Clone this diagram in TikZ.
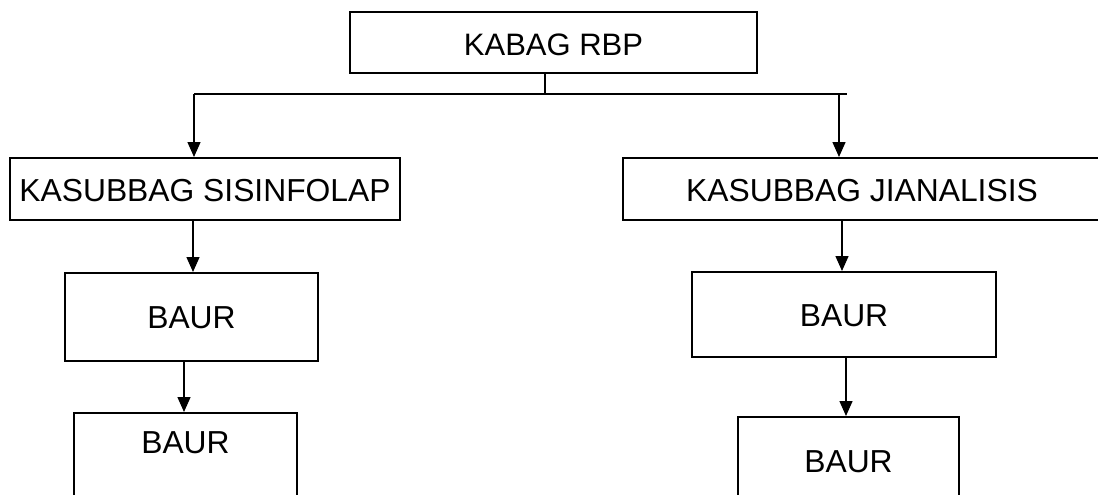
\documentclass[tikz,border=0pt]{standalone}
\usepackage{fontspec}
\setmainfont{Liberation Sans}
\usetikzlibrary{arrows.meta}

\tikzset{
  % box: text height/depth fix the top edge, the baseline and the bottom edge
  orgbox/.style={draw=black, line width=2pt, rectangle, inner sep=0pt,
    minimum height=0pt, anchor=north west, align=center,
    font=\fontsize{31.8}{36}\selectfont},
  link/.style={line width=1.4pt, -{Triangle[length=15pt,width=13pt]}},
  bus/.style={line width=2.2pt},
}

\begin{document}
\begin{tikzpicture}[x=1pt, y=-1pt]
\clip (0,0) rectangle (1098,495);
\fill[white] (0,0) rectangle (1098,495);

% head of the section
\node[orgbox, minimum width=407pt, text height=44pt, text depth=17pt,
      font=\fontsize{31}{36}\selectfont] (kabag) at (349,11) {KABAG RBP};

% sub-section heads
\node[orgbox, minimum width=390pt, text height=43pt, text depth=19pt] (sis) at (9,157) {KASUBBAG SISINFOLAP};
\node[orgbox, minimum width=478pt, text height=43pt, text depth=19pt] (jian) at (622,157) {KASUBBAG JIANALISIS};

% staff under SISINFOLAP
\node[orgbox, minimum width=253pt, text height=55pt, text depth=33pt] (baurA) at (64,272) {BAUR};
\node[orgbox, minimum width=223pt, text height=40pt, text depth=80pt] (baurB) at (73,412) {BAUR};

% staff under JIANALISIS
\node[orgbox, minimum width=304pt, text height=54pt, text depth=31pt] (baurC) at (691,271) {BAUR};
\node[orgbox, minimum width=221pt, text height=55pt, text depth=60pt] (baurD) at (737,416) {BAUR};

% distribution bus below the head
\coordinate (stem) at (545,94);
\coordinate (busL) at (194,94);
\coordinate (busR) at (847,94);
\coordinate (dropR) at (839,93);

\draw[line width=2pt] (kabag.south -| stem) -- (stem);
\draw[bus] (busL) -- (busR);
\draw[link] (busL) -- (sis.north -| busL);
\draw[link] (dropR) -- (jian.north -| dropR);

% chains below each sub-section
\coordinate (sA) at (193,0);
\coordinate (sB) at (184,0);
\coordinate (sC) at (842,0);
\coordinate (sD) at (846,0);
\draw[link] (sis.south -| sA) -- (baurA.north -| sA);
\draw[link] (baurA.south -| sB) -- (baurB.north -| sB);
\draw[link] (jian.south -| sC) -- (baurC.north -| sC);
\draw[link] (baurC.south -| sD) -- (baurD.north -| sD);
\end{tikzpicture}
\end{document}
